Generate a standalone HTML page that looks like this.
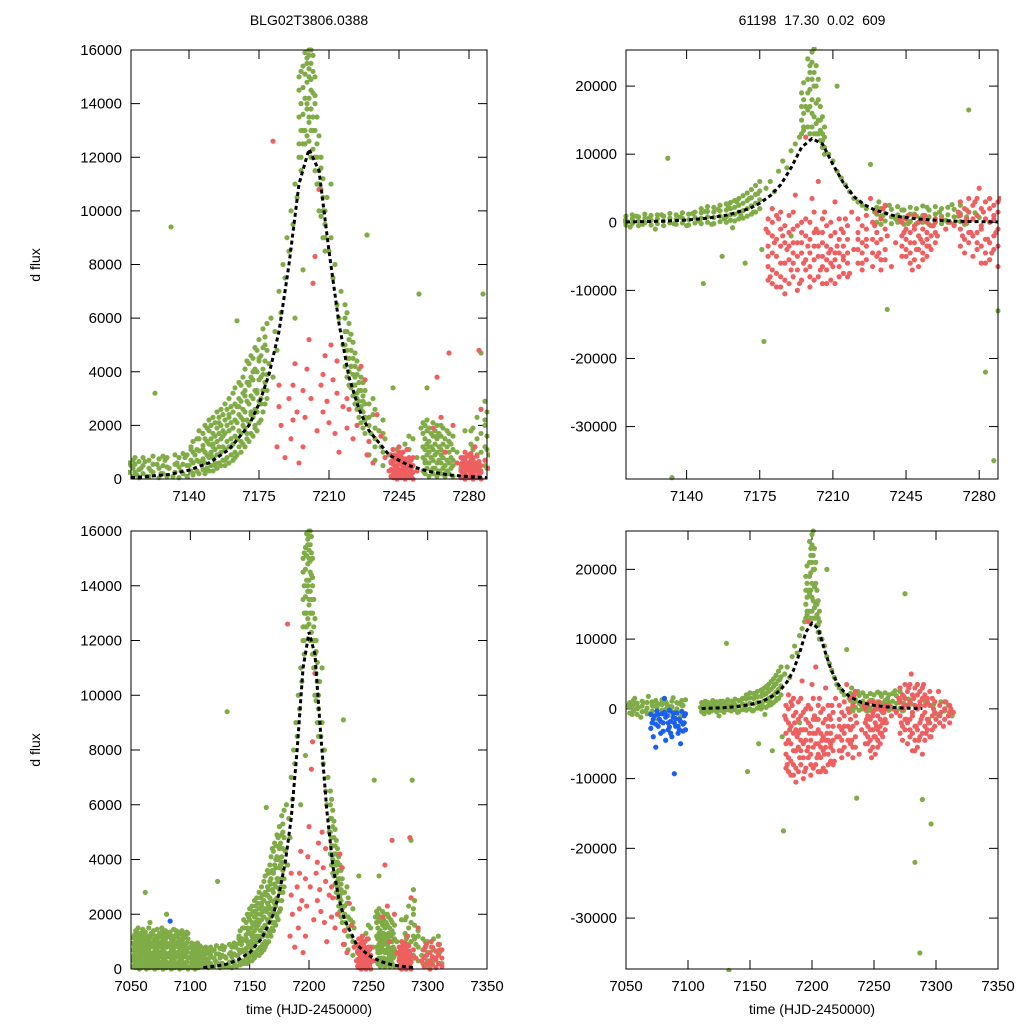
<!DOCTYPE html>
<html><head><meta charset="utf-8"><style>
body{margin:0;background:#fff;}
svg{display:block;font-family:"Liberation Sans",sans-serif;}
</style></head><body>
<svg id="chart" width="1024" height="1024" viewBox="0 0 1024 1024">
<text x="309" y="25" font-size="14" text-anchor="middle">BLG02T3806.0388</text>
<text x="812" y="25" font-size="14" text-anchor="middle" xml:space="preserve">61198  17.30  0.02  609</text>
<text transform="translate(40,265) rotate(-90)" font-size="14" text-anchor="middle">d flux</text>
<text transform="translate(40,750) rotate(-90)" font-size="14" text-anchor="middle">d flux</text>
<text x="309" y="1014" font-size="14" text-anchor="middle">time (HJD-2450000)</text>
<text x="812" y="1014" font-size="14" text-anchor="middle">time (HJD-2450000)</text>
</svg>
<script>
const leftGreen=[[7052,300],[7054,800],[7055,1200],[7056,500],[7058,100],[7059,900],[7060,1400],[7061,600],[7063,200],[7064,1000],[7065,700],[7067,1300],[7068,400],[7069,50],[7070,850],[7072,1100],[7073,300],[7074,600],[7076,1500],[7077,200],[7078,900],[7080,500],[7081,1200],[7082,100],[7084,700],[7085,1000],[7086,300],[7088,1400],[7089,600],[7090,150],[7091,900],[7093,400],[7094,1100],[7095,700],[7097,250],[7098,1300],[7062,2800],[7080,2000],[7066,1700],
[7101,400],[7103,900],[7105,200],[7107,700],[7109,300],[7111,500],[7113,800],[7114,150],[7116,400],[7118,650],[7119,100],[7121,300],[7123,3200],[7124,550],[7126,200],[7128,700],[7130,400],[7131,9400],[7132,100],[7134,600],[7136,300],[7138,800],[7140,500],[7141,1200],[7142,200],[7143,900],[7145,1500],[7146,600],[7147,1100],[7148,300],[7150,1800],[7151,900],[7152,1300],[7153,500],[7155,2100],[7156,1000],[7157,1600],[7158,700],[7160,2400],[7161,1200],[7162,1900],[7163,800],[7164,5900],[7165,2700],[7166,1400],[7167,2200],[7168,3100],[7169,1700],[7170,3600],[7171,2500],[7172,4000],[7173,2000],[7174,3300],[7175,4500],[7176,2800],[7177,3900],[7178,5000],[7179,3300],[7180,4300],[7181,6000],[7182,3800],[7183,5500],[7184,4800],[7185,7000],[7186,6200],[7187,8000],[7188,7500],[7189,9000],[7190,8500],[7191,10000],[7192,9500],[7193,11000],[7194,10500],[7195,12000],[7196,11500],[7197,13000],[7198,12500],[7199,14000],[7199,15500],[7200,13500],[7200,15000],[7200,16000],[7201,14500],[7201,12000],[7202,15800],[7202,13000],[7203,14000],[7203,11500],[7204,12500],[7205,11000],[7206,12000],[7207,10000],[7208,9500],[7209,10500],[7210,8500],[7211,9000],[7212,7500],[7213,8000],[7214,6500],[7215,6000],[7216,7000],[7217,5000],[7218,5500],[7219,4500],[7220,4000],[7221,4200],[7222,3500],[7223,3800],[7224,3000],[7225,3300],[7226,2600],[7227,2900],[7228,2200],[7229,9100],[7230,2000],[7231,1700],[7232,2400],[7233,1500],[7235,1800],[7236,1200],[7238,1500],[7240,900],[7242,3400],[7244,1100],[7246,700],[7248,1300],[7250,500],[7252,1500],[7254,800],[7256,1900],[7258,600],[7259,3400],[7260,1200],[7262,400],[7264,1600],[7266,900],[7268,200],[7270,1400],[7272,700],[7274,1000],[7276,400],[7278,1800],[7280,600],[7282,1100],[7284,300],[7286,4700],[7287,6900],[7288,2200],[7290,900],[7292,1400],[7295,500],[7298,1000],[7300,300],[7303,800],[7306,400],[7309,1200],[7312,200],[7255,6900],[7232,3000],[7197,7800],[7193,6000],[7211,11000]];
// dense observation groups: [time, fluxes...]
const leftGreenDense=[
[7052,100,450,700,950,1150],[7053,250,550,850,1250],[7054,50,350,650,1000,1400],[7055,150,500,900,1350],[7056,300,700,1100,1500],[7057,0,400,800,1200],[7058,200,600,1000,1300],[7059,50,450,750,1150],[7060,300,650,1050,1450],
[7061,100,500,850,1250],[7062,250,550,950,1350],[7063,0,400,700,1100],[7064,150,500,850,1200],[7065,300,650,1050,1500],[7066,50,400,800,1150],[7067,200,550,900,1250],[7068,100,500,850,1300],[7069,250,600,1000,1400],[7070,0,350,750,1100],
[7071,150,500,850,1200],[7072,300,650,1000,1450],[7073,50,450,800,1150],[7074,200,550,950,1300],[7075,100,450,850,1200],[7076,250,650,1000,1350],[7077,0,400,750,1100],[7078,150,550,900,1250],[7079,300,600,1000,1400],[7080,50,450,800,1150],
[7081,200,500,900,1300],[7082,100,450,850,1250],[7083,250,600,950,1350],[7084,0,350,750,1100],[7085,150,500,900,1200],[7086,300,650,1050,1450],[7087,50,400,800,1150],[7088,200,550,900,1250],[7089,100,500,850,1200],[7090,250,600,1000,1350],
[7091,0,400,750,1100],[7092,150,550,900,1300],[7093,300,650,1000,1400],[7094,50,450,850,1200],[7095,200,500,900,1250],[7096,100,450,800,1150],[7097,250,600,950,1350],[7098,0,400,750,1100],
[7100,100,450,800],[7101,250,600,950],[7102,50,400,750],[7103,200,550,900],[7104,0,350,700],[7105,150,500,850],[7106,300,600,950],[7107,50,400,750],[7108,200,500,850],[7109,100,450,800],[7110,250,600],
[7112,100,400,700],[7113,250,550],[7115,50,350,650],[7117,200,500,800],[7120,100,400,700],[7122,250,550,850],[7125,50,400,750],[7127,200,500,850],[7129,100,450,800],[7133,250,550,900],[7135,50,450,800],[7137,200,550,950],[7139,100,500,900],
[7141,300,700,1100],[7142,150,600,1000,1400],[7144,300,700,1100,1500],[7145,200,650,1050,1800],[7147,350,750,1250,1700],[7148,200,600,1000,1500,2000],[7149,400,900,1400,1900],[7150,300,800,1300,2200],[7151,500,1000,1500,2000],[7152,300,800,1200,1700,2300],
[7153,600,1100,1600,2100],[7154,400,900,1400,1900,2500],[7155,600,1200,1700,2300],[7156,500,1000,1500,2000,2600],[7157,700,1200,1800,2400],[7158,500,1100,1700,2200,2800],[7159,800,1400,2000,2600],[7160,600,1200,1800,2300,3000],[7161,900,1500,2100,2700],[7162,700,1300,1900,2500,3200],
[7163,1000,1600,2200,2800,3400],[7164,900,1500,2100,2700],[7165,1200,1800,2400,3000,3600],[7166,1000,1700,2300,2900,3500],[7167,1300,2000,2600,3200,3800],[7168,1200,1900,2500,3300,4100],[7169,1500,2200,2900,3600,4400],[7170,1400,2100,2800,3500,4300],[7171,1700,2400,3100,3800,4600],[7172,1600,2300,3000,3700,4500],
[7173,1900,2600,3300,4100,4900],[7174,1800,2500,3200,4000,4800],[7175,2100,2900,3700,4400,5200],[7176,2200,3000,3800,4600],[7177,2500,3300,4100,4900,5600],[7178,2800,3600,4400,5300],[7179,3000,3900,4800,5800],
[7195,12500,13500,14500,15000],[7196,12000,13000,14000,15200],[7197,12500,13600,14600,15400],[7198,13000,14200,15100,15900],[7199,12800,13800,14800,15700],[7200,12600,13300,14200,15300,15800],[7201,13000,13800,14900,15500,16000],[7202,12300,13500,14400,15200],[7203,12000,13000,14300,15000],[7204,11000,12000,13500],[7205,10000,11500,12800],[7206,9800,10800,11600],[7207,9000,10500,11200],[7208,8500,9000,10000],
[7218,4200,5000,6000,6500],[7219,3800,4800,5500,6200],[7220,3500,4500,5200,5800],[7221,3400,4200,4800,5400],[7222,3100,3900,4500,5100],[7223,2800,3500,4200,4700],[7224,2600,3200,3900,4400],[7225,2300,2900,3600,4100],[7226,2100,2700,3300,3800],[7227,1900,2500,3100,3600],[7228,1700,2300,2800,3300],
[7230,900,1400,2300,2800],[7233,700,1200,1900,2600],[7237,500,1000,1700,2200],[7250,200,700,1100,1600],[7257,300,800,1200,1700,2100],[7258,200,700,1100,1500,2000],[7259,400,900,1300,1800,2200],[7260,100,600,1000,1400,1900],[7261,300,800,1200,1700],[7262,200,700,1100,1600,2100],
[7263,400,900,1300,1800],[7264,100,600,1000,1500,2000],[7265,300,700,1200,1700],[7266,200,600,1100,1600,2000],[7267,400,800,1300,1900],[7268,100,500,1000,1500],[7269,300,700,1200,1800],[7270,200,600,1000,1700],[7271,400,800,1300],[7272,100,500,1100,1600],
[7281,300,800,1300,1800],[7282,200,700,1200,1900],[7284,400,900,1500,2300],[7286,300,1000,1700,2600],[7288,500,1200,2000,2900],[7289,400,1100,1600,2500],[7292,300,800,1200],[7296,200,700,1100],[7300,100,600,1000],[7305,300,700,1100],[7310,200,600,900]];
const leftRed=[[7182,12600],[7184,1200],[7186,2000],[7188,800],[7190,3000],[7191,1500],[7193,4300],[7194,2500],[7195,600],[7198,2300],[7199,4100],[7200,5200],[7201,3000],[7202,7300],[7203,8300],[7204,1800],[7205,10800],[7206,3500],[7208,4600],[7209,2900],[7210,2100],[7211,5000],[7212,3700],[7213,1700],[7215,1000],[7217,2700],[7220,2600],[7222,1500],[7224,2000],[7226,4200],[7228,3700],[7229,900],[7230,1400],[7232,600],[7234,2400],[7236,1600],[7238,800],[7240,300],[7241,600],[7242,150],[7243,900],[7244,400],[7245,1000],[7246,200],[7247,700],[7248,300],[7249,1100],[7250,500],[7251,100],[7252,800],[7254,300],[7262,1900],[7264,3800],[7266,2300],[7268,1000],[7270,4700],[7272,2000],[7274,600],[7276,300],[7277,800],[7278,100],[7279,500],[7280,900],[7281,200],[7282,600],[7283,1200],[7284,300],[7285,4800],[7286,2600],[7288,700],[7290,400],[7292,1500],[7295,300],[7298,800],[7300,200],[7303,1000],[7306,400],[7310,700]];
const leftRedDense=[[7241,100,350,650,900],[7242,50,300,550,800,1100],[7243,150,400,700],[7244,0,250,500,800],[7245,100,350,600,900,1200],[7246,50,300,550,850],[7247,150,400,650,1000],[7248,0,250,500,750],[7249,100,350,600],[7250,50,300,550,800],[7251,150,400,700],[7252,0,250,500],
[7276,50,300,550,800],[7277,150,400,650],[7278,0,250,500,750,1000],[7279,100,350,600,850],[7280,50,300,550],[7281,150,400,700,950],[7282,0,250,500,800],[7283,100,350,600],[7284,50,300,550,850],[7285,150,400,650],[7286,0,250,500],
[7297,100,400,700],[7299,200,500,900],[7302,0,300,600],[7304,150,450,800],[7307,50,350,650],[7309,200,500,900],[7312,100,400,700],[7185,3500,2700],[7192,2200,3500],[7197,3300,1200],[7207,3900,2500],[7214,4400,3200],[7219,1900,3000]];
const leftBlue=[[7083,1750]];
const rightGreen=[[7052,500],[7055,-800],[7057,1500],[7060,200],[7062,-1200],[7064,900],[7066,-300],[7068,1800],[7070,-600],[7072,400],[7074,1200],[7076,-1500],[7078,700],[7080,-200],[7082,1000],[7084,-900],[7086,300],[7088,1600],[7090,-400],[7092,800],[7094,-1100],[7096,500],[7098,1300],
[7110,200],[7113,-700],[7116,900],[7119,-300],[7122,600],[7125,-1000],[7128,1100],[7131,9400],[7133,-37500],[7134,-200],[7137,800],[7140,-500],[7143,1300],[7146,200],[7148,-9000],[7149,1600],[7152,-300],[7155,1900],[7158,500],[7160,2300],[7162,-800],[7164,3000],[7166,1000],[7168,-6000],[7170,3500],[7172,1500],[7174,4200],[7176,-4000],[7177,-17500],[7178,5000],[7180,6000],[7182,4500],[7184,7500],[7186,9000],[7188,8000],[7190,10500],[7192,11500],[7194,12500],[7196,14000],[7197,17000],[7198,19000],[7199,22000],[7200,25000],[7200,16000],[7201,20000],[7202,23000],[7202,13000],[7203,18000],[7204,15000],[7205,12000],[7206,11000],[7208,10000],[7210,9000],[7212,7500],[7214,6500],[7216,5500],[7218,4500],[7220,3500],[7222,3000],[7224,2500],[7226,2000],[7228,8500],[7230,1500],[7232,3000],[7234,1000],[7236,-12800],[7237,2500],[7240,500],[7243,1800],[7246,-200],[7249,1200],[7252,600],[7255,2200],[7258,-500],[7261,1500],[7264,300],[7267,2600],[7270,900],[7273,-300],[7275,16500],[7278,1400],[7280,700],[7283,-22000],[7285,3500],[7287,-35000],[7289,-13000],[7291,1200],[7294,-1500],[7296,-16500],[7298,600],[7301,-800],[7304,1000],[7307,-300],[7310,500],[7313,-1000],[7212,20000],[7157,-5000],[7190,-2000]];
const rightGreenDense=[
[7053,-600,200,900],[7056,-300,500,1200],[7059,-800,0,800],[7063,-400,400,1100],[7067,-700,100,900],[7071,-300,500,1000],[7075,-600,200,800],[7079,-200,600,1300],[7083,-700,100,700],[7087,-400,300,1100],[7091,-600,0,900],[7095,-300,500,1200],
[7111,-400,300,900],[7114,-200,500,1100],[7117,-500,200,800],[7120,-100,600,1200],[7123,-400,300,1000],[7126,-200,500,1100],[7129,-500,200,900],[7132,-100,600,1300],[7135,-300,400,1100],[7138,-100,600,1400],[7141,-400,400,1200],[7144,-100,700,1500],
[7147,-200,600,1400,2000],[7150,0,800,1600,2300],[7153,-200,700,1500,2200],[7156,100,900,1700,2500],[7159,0,800,1800,2700],[7161,300,1100,2000,2900],[7163,200,1200,2200,3200],[7165,500,1500,2500,3500],[7167,600,1700,2800,3900],[7169,900,2000,3200,4300],[7171,1200,2400,3600,4800],[7173,1500,2800,4100,5400],[7175,2000,3300,4600,6000],
[7195,13000,15000,17000,19000],[7196,13500,16000,18000,20500],[7198,14000,16500,21000,24000],[7199,13000,17000,19500,23000],[7200,14000,18000,21000,23500],[7201,13000,15500,22000,25500],[7202,14500,17500,20000],[7203,13000,15000,21000],[7204,12000,13500,17000],[7205,11000,13000,15500],[7206,10000,12500,14000],
[7231,0,1200,2200],[7233,-300,900,2000],[7235,200,1300,2400],[7238,-200,800,1900],[7241,0,1100,2300],[7244,-300,700,1800],[7247,100,1200,2200],[7250,-200,900,2000],[7253,0,1000,2400],[7256,-300,800,1800],[7259,100,1200,2300],[7262,-200,900,2000],[7265,0,1100,2200],[7268,-300,800,1900],[7271,100,1300,2500],[7274,-200,800,1800]];
const rightRed=[[7178,-1000],[7179,-5000],[7180,-8000],[7181,2000],[7182,-3000],[7183,-9500],[7184,500],[7185,-6000],[7186,-2000],[7187,-10500],[7188,-4000],[7189,1000],[7190,-7000],[7191,-3000],[7192,4000],[7193,-5000],[7194,-9000],[7195,-1500],[7196,-6000],[7197,12500],[7198,-3500],[7199,-8000],[7200,3500],[7201,-5500],[7202,-1000],[7203,6000],[7204,-7000],[7205,-3000],[7206,1500],[7207,-9000],[7208,-4500],[7209,-2000],[7210,-6500],[7211,3000],[7212,-3500],[7213,-8000],[7214,-1000],[7215,-5000],[7216,500],[7217,-2500],[7218,-7500],[7219,1500],[7220,-4000],[7222,-1500],[7224,-6000],[7226,-2500],[7228,3500],[7230,-500],[7232,-4500],[7234,2000],[7236,-2000],[7238,-6500],[7240,-3000],[7242,500],[7244,-1500],[7245,-5000],[7246,1000],[7247,-3000],[7248,-7000],[7249,-1000],[7250,-4000],[7251,0],[7252,-2500],[7253,-5500],[7254,1000],[7255,-1500],[7256,-3500],[7258,-500],[7260,-2000],[7262,500],[7264,-1000],[7266,0],[7268,-500],[7270,1500],[7272,-2000],[7274,500],[7276,-1500],[7278,3000],[7279,-3000],[7280,5000],[7281,-1000],[7282,1500],[7283,-6000],[7284,-2500],[7285,2000],[7286,-4500],[7287,500],[7288,-1500],[7289,-6500],[7290,3500],[7291,-500],[7292,-3500],[7293,1000],[7294,-2000],[7296,-4000],[7298,0],[7300,-1500],[7302,2500],[7304,-500],[7306,-2500],[7308,1000],[7310,-1000],[7312,0],[7314,-500]];
const rightRedDense=[
[7179,-8500,-6500,-3500,-1500,500],[7181,-9000,-7000,-4500,-2000,0],[7183,-7500,-5000,-2500,1000],[7185,-9500,-8000,-3500,-1000,1500],[7187,-8500,-6000,-3000,-500],[7189,-9000,-5500,-3500,-1500],[7191,-8000,-6000,-4500,-1000,1500],[7193,-10000,-7000,-3000,-500],[7195,-8500,-4500,-3000,0],[7197,-7000,-5500,-2000,500],
[7199,-9500,-6500,-4500,-2500,0],[7201,-8500,-3500,-1500,1500],[7203,-8000,-5000,-3500,-1500],[7205,-9000,-6500,-5000,-1500,500],[7207,-7000,-5500,-3500,-500],[7209,-8500,-6000,-4000,0],[7211,-9000,-5500,-4500,-1500],[7213,-6500,-4500,-2500,500],[7215,-7500,-5500,-3500,-1500],[7217,-8000,-6000,-4500,-500],
[7222,-6000,-4000,-2500,500],[7224,-7000,-4500,-3000,-500],[7226,-5500,-3500,-1000,1000],[7229,-6500,-4500,-2500,0],[7231,-5000,-3000,-1500,1500],[7233,-7000,-5500,-2500,500],[7235,-5500,-4000,-1000,2500],
[7243,-5000,-3500,-2000,0],[7245,-4000,-2500,-1000,500],[7247,-6000,-4500,-1500],[7249,-5500,-3000,-500,1000],[7251,-6500,-4000,-2000],[7253,-4500,-3000,-1000,500],[7255,-5000,-3500,-2500,0],[7257,-4000,-2000,-500],[7259,-3000,-1500,0,500],
[7271,-3500,-1000,1000,3000],[7273,-4500,-2500,0,2000],[7275,-3000,-1500,1500,3500],[7277,-5000,-2000,500,2500],[7279,-4000,-1500,1000,3500],[7281,-6000,-3500,-500,2000],[7283,-4500,-2500,500,3000],[7285,-5500,-3000,0,3500],[7287,-4000,-2000,1000,2500],[7289,-3500,-1000,1500,3000],
[7291,-4500,-2500,500,2000],[7293,-3000,-1500,1500],[7295,-4000,-2000,500,2500],[7297,-3000,-1000,1500],[7299,-2500,-500,1000],[7303,-2000,-1000,500],[7307,-1500,0,1000],[7311,-2000,-500,500]];
const rightBlue=[[7070,-800],[7071,-2000],[7072,-4000],[7073,-1000],[7074,-5500],[7075,-300],[7076,-2500],[7077,-1500],[7078,-3500],[7079,-700],[7080,-2000],[7081,1500],[7082,-4500],[7083,-1000],[7084,-3000],[7085,-200],[7086,-1800],[7087,-4000],[7088,-1200],[7089,-9300],[7090,-2500],[7091,-600],[7092,-3500],[7093,-1500],[7094,-5000],[7095,-400],[7096,-2200],[7097,-1000],[7098,-3000],
[7070,-2800],[7072,-1500],[7074,-2200],[7076,-800],[7078,-1800],[7080,-3200],[7082,-1200],[7084,-2000],[7086,-3500],[7088,-600],[7090,-1400],[7092,-2500],[7094,-1800],[7096,-3200],[7098,-700],[7081,-500],[7085,-2600],[7089,-2000],[7093,-3000],[7097,-2000]];
const modelT=[7111,7120,7130,7140,7150,7160,7170,7175,7180,7185,7190,7195,7200,7205,7210,7215,7220,7225,7230,7240,7250,7260,7270,7280,7289];
const modelF=[50,100,170,330,600,1100,2000,2800,3900,5500,8000,11000,12300,11500,8500,5800,3800,2600,1800,900,500,280,150,90,50];
const topXTicks=[7140,7175,7210,7245,7280];
const bottomXTicks=[7050,7100,7150,7200,7250,7300,7350];
const leftYTicks=[0,2000,4000,6000,8000,10000,12000,14000,16000];
const rightYTicks=[-30000,-20000,-10000,0,10000,20000];

const NS='http://www.w3.org/2000/svg';
const svg=document.getElementById('chart');
function mk(tag,attrs,parent){const e=document.createElementNS(NS,tag);for(const k in attrs)e.setAttribute(k,attrs[k]);(parent||svg).appendChild(e);return e;}
function expand(groups){const out=[];groups.forEach(g=>{for(let i=1;i<g.length;i++)out.push([g[0],g[i]]);});return out;}
const LG=leftGreen.concat(expand(leftGreenDense)), LR=leftRed.concat(expand(leftRedDense));
const RG=rightGreen.concat(expand(rightGreenDense)), RR=rightRed.concat(expand(rightRedDense));
const panels=[
 {id:'top-left',x0:131,x1:487,y0:50,y1:479,xmin:7111,xmax:7289,ymin:0,ymax:16000,xt:topXTicks,yt:leftYTicks,g:LG,r:LR,b:leftBlue},
 {id:'top-right',x0:626,x1:998,y0:50,y1:479,xmin:7111,xmax:7289,ymin:-37700,ymax:25300,xt:topXTicks,yt:rightYTicks,g:RG,r:RR,b:rightBlue},
 {id:'bottom-left',x0:131,x1:487,y0:531,y1:969,xmin:7050,xmax:7350,ymin:0,ymax:16000,xt:bottomXTicks,yt:leftYTicks,g:LG,r:LR,b:leftBlue},
 {id:'bottom-right',x0:626,x1:998,y0:531,y1:969,xmin:7050,xmax:7350,ymin:-37300,ymax:25500,xt:bottomXTicks,yt:rightYTicks,g:RG,r:RR,b:rightBlue}
];
panels.forEach(p=>{
 const sx=v=>p.x0+(v-p.xmin)/(p.xmax-p.xmin)*(p.x1-p.x0);
 const sy=v=>p.y1-(v-p.ymin)/(p.ymax-p.ymin)*(p.y1-p.y0);
 const g=mk('g',{});
 
 
 const cp=mk('clipPath',{id:'clip-'+p.id},g);
 mk('rect',{x:p.x0-3,y:p.y0-3,width:p.x1-p.x0+6,height:p.y1-p.y0+6},cp);
 p.xt.forEach(t=>{const x=sx(t);
  const l=mk('line',{x1:x,x2:x,y1:p.y1,y2:p.y1-9,stroke:'#000','stroke-width':1},g);
  
  
  mk('line',{x1:x,x2:x,y1:p.y0,y2:p.y0+9,stroke:'#000','stroke-width':1},g);
  const tx=mk('text',{x:x,y:p.y1+22,'font-size':15,'text-anchor':'middle'},g);tx.textContent=t;
  
  });
 p.yt.forEach(t=>{const y=sy(t);
  const l=mk('line',{x1:p.x0,x2:p.x0+9,y1:y,y2:y,stroke:'#000','stroke-width':1},g);
  
  
  mk('line',{x1:p.x1,x2:p.x1-9,y1:y,y2:y,stroke:'#000','stroke-width':1},g);
  const tx=mk('text',{x:p.x0-9,y:y+5,'font-size':15,'text-anchor':'end'},g);tx.textContent=t;
  
  });
 const dots=mk('g',{'clip-path':'url(#clip-'+p.id+')'},g);
 
 
 [[p.g,'#7fac46','green-point'],[p.r,'#ef5f5f','red-point'],[p.b,'#1a5ff0','blue-point']].forEach(([arr,col,nm])=>{
  arr.forEach(d=>{if(d[0]<p.xmin-1||d[0]>p.xmax+1)return;
   const c=mk('circle',{cx:sx(d[0]),cy:sy(d[1]),r:2.6,fill:col},dots);
   
   });
 });
 const pts=modelT.map((t,i)=>sx(t)+','+sy(modelF[i])).join(' ');
 const ml=mk('polyline',{points:pts,fill:'none',stroke:'#000','stroke-width':3,'stroke-dasharray':'4,3'},dots);
 
 
 const fr=mk('rect',{x:p.x0,y:p.y0,width:p.x1-p.x0,height:p.y1-p.y0,fill:'none',stroke:'#000','stroke-width':1},g);
 
 
});
</script>
</body></html>
